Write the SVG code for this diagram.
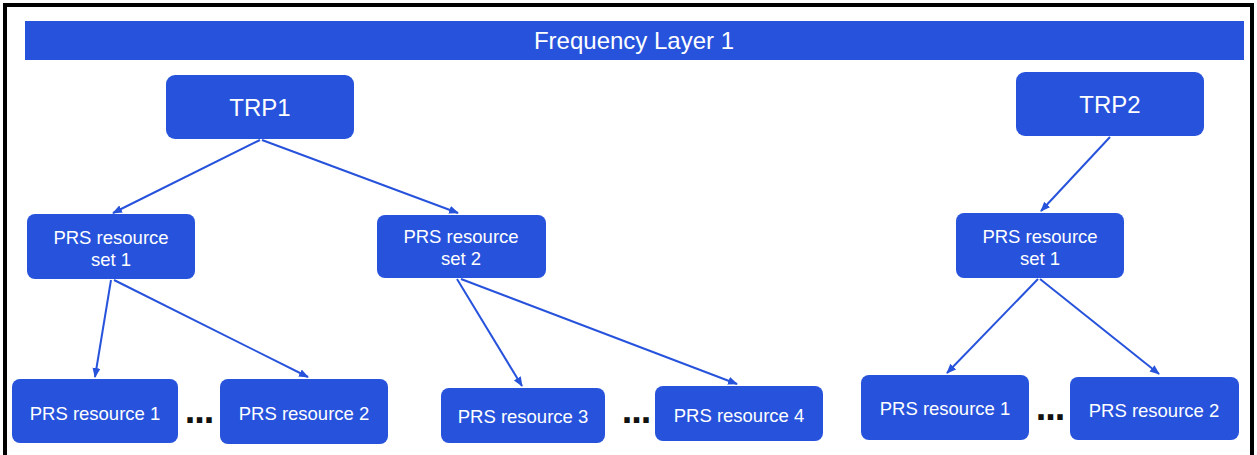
<svg xmlns="http://www.w3.org/2000/svg" width="1257" height="455" viewBox="0 0 1257 455">
<style>
.box{fill:#2753DC;}
.t{fill:#fff;font-family:"Liberation Sans",Arial,sans-serif;font-size:18.5px;text-anchor:middle;}
.big{font-size:24px;}
.dots{fill:#111;font-family:"Liberation Sans",Arial,sans-serif;font-size:38px;font-weight:bold;text-anchor:middle;letter-spacing:-1px;}
.c{stroke:#2753DC;stroke-width:2;fill:none;marker-end:url(#ah);}
</style>
<defs>
<marker id="ah" markerUnits="userSpaceOnUse" markerWidth="10" markerHeight="10" viewBox="0 0 10 10" refX="9" refY="5" orient="auto">
<path d="M0,1 L10,5 L0,9 z" fill="#2753DC"/>
</marker>
</defs>
<rect x="0" y="0" width="1257" height="455" fill="#fff"/>
<path d="M5,460 V5 H1252 V460" fill="none" stroke="#000" stroke-width="4"/>
<g id="title">
<rect class="box" x="25" y="21" width="1219" height="39"/>
<text class="t big" x="634" y="49">Frequency Layer 1</text>
</g>
<g id="connectors">
<line class="c" x1="260" y1="140" x2="113" y2="213"/>
<line class="c" x1="262" y1="140" x2="458" y2="213"/>
<line class="c" x1="1110" y1="137" x2="1041" y2="211"/>
<line class="c" x1="111" y1="280" x2="95" y2="377"/>
<line class="c" x1="114" y1="280" x2="308" y2="377"/>
<line class="c" x1="457" y1="279" x2="522" y2="386"/>
<line class="c" x1="461" y1="279" x2="737" y2="384"/>
<line class="c" x1="1038" y1="279" x2="947" y2="373"/>
<line class="c" x1="1040" y1="279" x2="1159" y2="374"/>
</g>
<g id="trp1">
<rect class="box" x="166" y="75" width="188" height="64" rx="9"/>
<text class="t big" x="260" y="116">TRP1</text>
</g>
<g id="trp2">
<rect class="box" x="1016" y="72" width="188" height="64" rx="9"/>
<text class="t big" x="1110" y="113">TRP2</text>
</g>
<g id="set1a">
<rect class="box" x="27" y="214" width="168" height="65" rx="8"/>
<text class="t" x="111" y="244">PRS resource</text>
<text class="t" x="111" y="266">set 1</text>
</g>
<g id="set2a">
<rect class="box" x="377" y="215" width="169" height="63" rx="8"/>
<text class="t" x="461" y="243">PRS resource</text>
<text class="t" x="461" y="265">set 2</text>
</g>
<g id="set1b">
<rect class="box" x="956" y="213" width="168" height="65" rx="8"/>
<text class="t" x="1040" y="243">PRS resource</text>
<text class="t" x="1040" y="265">set 1</text>
</g>
<g id="res1a">
<rect class="box" x="12" y="379" width="166" height="64" rx="8"/>
<text class="t" x="95" y="420">PRS resource 1</text>
</g>
<g id="res2a">
<rect class="box" x="220" y="379" width="168" height="65" rx="8"/>
<text class="t" x="304" y="420">PRS resource 2</text>
</g>
<g id="res3a">
<rect class="box" x="441" y="388" width="164" height="55" rx="8"/>
<text class="t" x="523" y="423">PRS resource 3</text>
</g>
<g id="res4a">
<rect class="box" x="655" y="386" width="168" height="55" rx="8"/>
<text class="t" x="739" y="422">PRS resource 4</text>
</g>
<g id="res1b">
<rect class="box" x="861" y="375" width="168" height="65" rx="8"/>
<text class="t" x="945" y="415">PRS resource 1</text>
</g>
<g id="res2b">
<rect class="box" x="1070" y="377" width="169" height="63" rx="8"/>
<text class="t" x="1154" y="417">PRS resource 2</text>
</g>
<g id="dots">
<text class="dots" x="199" y="423">...</text>
<text class="dots" x="636" y="423">...</text>
<text class="dots" x="1050" y="420">...</text>
</g>
</svg>
